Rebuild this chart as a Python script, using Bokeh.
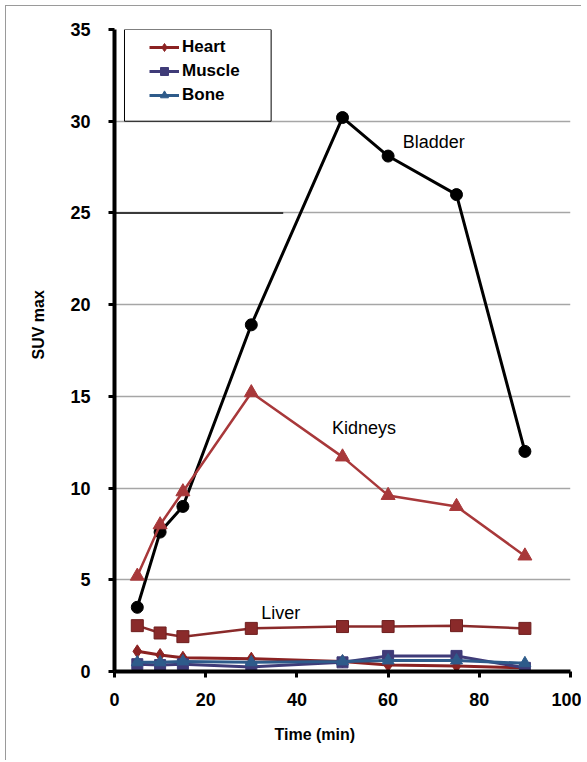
from bokeh.plotting import figure
from bokeh.models import (Range1d, Legend, LegendItem, Label, BoxAnnotation,
                          FixedTicker, Title)
from bokeh.embed import file_html
from bokeh.resources import INLINE

# ---- data ----
time_min = [5, 10, 15, 30, 50, 60, 75, 90]
bladder = [3.5, 7.6, 9.0, 18.9, 30.2, 28.1, 26.0, 12.0]
kidneys = [5.2, 8.0, 9.8, 15.2, 11.7, 9.6, 9.0, 6.3]
liver = [2.5, 2.1, 1.9, 2.35, 2.45, 2.45, 2.5, 2.35]
heart = [1.1, 0.9, 0.75, 0.7, 0.55, 0.35, 0.3, 0.2]
muscle = [0.4, 0.35, 0.4, 0.25, 0.5, 0.85, 0.85, 0.2]
bone = [0.5, 0.5, 0.55, 0.5, 0.55, 0.6, 0.6, 0.45]
x_ticks = [0, 20, 40, 60, 80, 100]
y_ticks = [0, 5, 10, 15, 20, 25, 30, 35]

TICK_FONT = "Liberation Sans"
TITLE_FONT = "Liberation Sans"

p = figure(width=576, height=755, output_backend="svg", toolbar_location=None,
           x_range=Range1d(0, 100), y_range=Range1d(0, 35),
           min_border_left=107, min_border_right=12, min_border_top=23,
           min_border_bottom=90)
p.margin = (5, 0, 0, 5)
p.styles = {"border-left": "1px solid #9a9a9a", "border-top": "1px solid #9a9a9a"}
p.outline_line_color = None
p.background_fill_color = "white"
p.border_fill_color = "white"

# grid
p.xgrid.grid_line_color = None
p.ygrid.ticker = FixedTicker(ticks=y_ticks)
p.ygrid.grid_line_color = "#a6a6a6"
p.ygrid.grid_line_width = 1.5

# axes
for ax in (p.xaxis[0], p.yaxis[0]):
    ax.axis_line_width = 4
    ax.axis_line_color = "black"
    ax.major_tick_line_width = 3
    ax.major_tick_line_color = "black"
    ax.major_tick_in = 0
    ax.major_tick_out = 6
    ax.minor_tick_line_color = None
    ax.major_label_text_font = TICK_FONT
    ax.major_label_text_font_style = "bold"
    ax.major_label_text_font_size = "18px"
    ax.major_label_text_color = "black"
p.xaxis[0].ticker = FixedTicker(ticks=x_ticks)
p.yaxis[0].ticker = FixedTicker(ticks=y_ticks)
p.xaxis[0].major_label_standoff = 15
p.yaxis[0].major_label_standoff = 18

# axis titles (off-centre as in the original)
p.add_layout(Title(text="Time (min)", align="left", offset=160, standoff=30,
                   text_font=TITLE_FONT, text_font_style="bold",
                   text_font_size="16px", text_color="black"), "below")
p.add_layout(Title(text="SUV max", align="left", offset=312, standoff=42,
                   text_font=TITLE_FONT, text_font_style="bold",
                   text_font_size="16px", text_color="black"), "left")

# darker partial line at 25 (as in the original image)
p.segment(x0=[0], y0=[25], x1=[37], y1=[25], line_color="#3a3a3a", line_width=2)

# series
p.line(time_min, bladder, line_color="black", line_width=3)
p.scatter(time_min, bladder, marker="circle", size=12, fill_color="black",
          line_color="black")
kid_c = "#a8383a"
p.line(time_min, kidneys, line_color=kid_c, line_width=2.5)
p.scatter(time_min, kidneys, marker="triangle", size=14, fill_color=kid_c,
          line_color=kid_c)
liv_c = "#8a2a2a"
p.line(time_min, liver, line_color=liv_c, line_width=2.5)
p.scatter(time_min, liver, marker="square", size=12, fill_color=liv_c, line_color="#6e1f1f")

heart_c = "#8b2222"
muscle_c = "#3f3b78"
bone_c = "#2e5b8a"
rh_l = p.line(time_min, heart, line_color=heart_c, line_width=3)
rh_m = p.scatter(time_min, heart, marker="diamond", size=13, fill_color=heart_c,
                 line_color=heart_c)
rm_l = p.line(time_min, muscle, line_color=muscle_c, line_width=3)
rm_m = p.scatter(time_min, muscle, marker="square", size=11, fill_color=muscle_c,
                 line_color=muscle_c)
rb_l = p.line(time_min, bone, line_color=bone_c, line_width=3)
rb_m = p.scatter(time_min, bone, marker="triangle", size=12, fill_color=bone_c,
                 line_color=bone_c)

# series labels
for txt, x, y in (("Bladder", 63.2, 28.84), ("Kidneys", 47.7, 13.25), ("Liver", 32.2, 3.2)):
    p.add_layout(Label(x=x, y=y, text=txt, text_font=TICK_FONT, text_font_size="18px",
                       text_baseline="middle", text_align="left", text_color="black"))

# legend frame
p.add_layout(BoxAnnotation(left=2.19, right=34.35, bottom=30, top=35,
                           fill_color="white", fill_alpha=1.0,
                           line_color="black", line_width=1, line_alpha=1.0,
                           level="annotation"))
legend = Legend(items=[LegendItem(label="Heart", renderers=[rh_l, rh_m]),
                       LegendItem(label="Muscle", renderers=[rm_l, rm_m]),
                       LegendItem(label="Bone", renderers=[rb_l, rb_m])],
                location=(35, 566), padding=0, margin=0, spacing=4,
                glyph_width=30, glyph_height=20, label_height=20, label_standoff=3,
                border_line_color=None, background_fill_alpha=0,
                label_text_font=TICK_FONT, label_text_font_style="bold",
                label_text_font_size="17px", label_text_color="black")
p.add_layout(legend)

open("out.html", "w").write(file_html(p, INLINE))
